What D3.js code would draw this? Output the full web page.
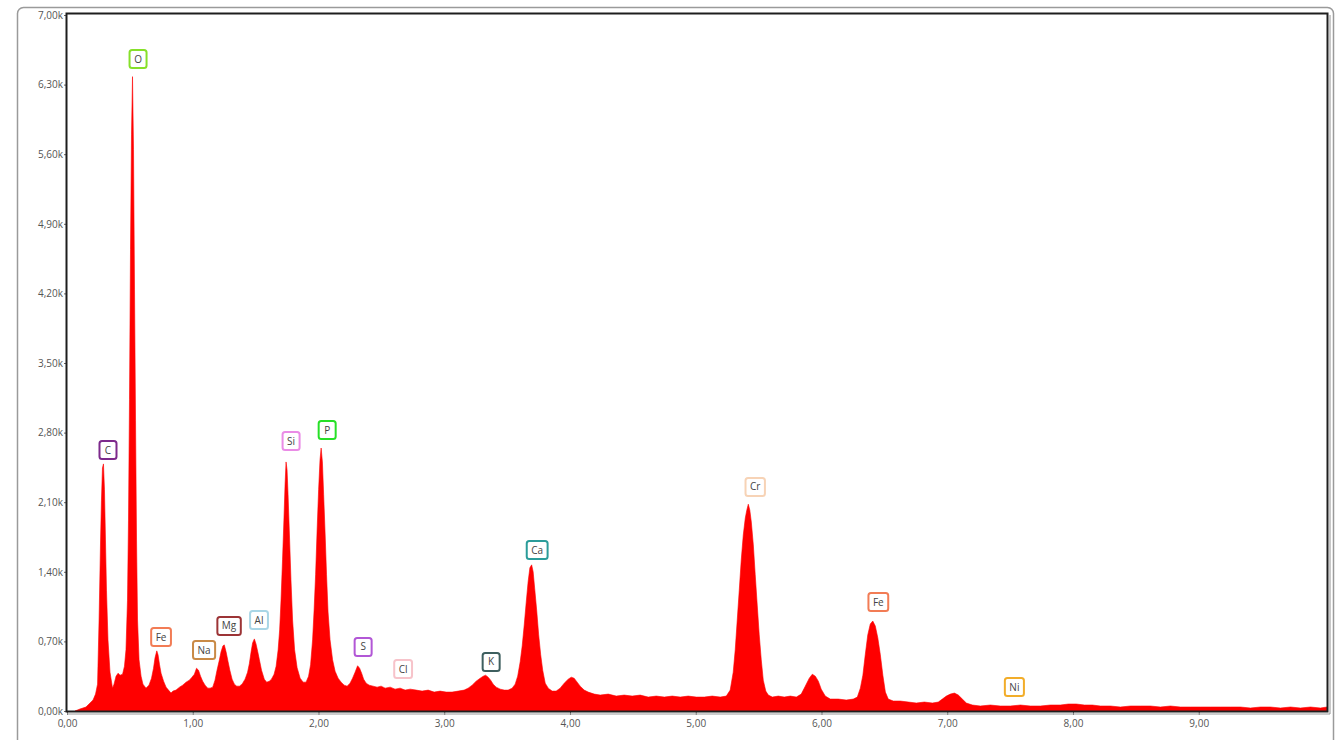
<!DOCTYPE html>
<html>
<head>
<meta charset="utf-8">
<script src="https://cdn.jsdelivr.net/npm/d3@7"></script>
<style>
body { margin: 0; background: #fff; }
.axis text { font-family: "Open Sans", "Noto Sans", sans-serif; font-size: 10px; fill: #555; }
.lbl text { font-family: "Open Sans", "Noto Sans", sans-serif; font-size: 10px; fill: #444; }
</style>
</head>
<body>
<div class="d3-here"></div>
<script>
// spectrum (keV / counts)
var energy = [
	0.064, 0.103, 0.151, 0.183, 0.207, 0.227, 0.243, 0.255, 0.267, 0.274, 0.282, 0.290, 0.298, 0.306, 0.314, 0.326, 0.342, 0.362,
	0.374, 0.390, 0.406, 0.422, 0.442, 0.457, 0.469, 0.481, 0.489, 0.497, 0.505, 0.513, 0.521, 0.529, 0.537, 0.545, 0.553, 0.561,
	0.573, 0.589, 0.604, 0.628, 0.652, 0.672, 0.688, 0.700, 0.714, 0.724, 0.736, 0.748, 0.768, 0.788, 0.807, 0.827, 0.843, 0.867,
	0.895, 0.920, 0.947, 0.973, 0.994, 1.013, 1.030, 1.046, 1.062, 1.079, 1.098, 1.119, 1.138, 1.159, 1.177, 1.193, 1.212, 1.225,
	1.240, 1.251, 1.265, 1.281, 1.295, 1.313, 1.331, 1.350, 1.371, 1.392, 1.416, 1.436, 1.450, 1.464, 1.476, 1.490, 1.503, 1.517,
	1.530, 1.547, 1.569, 1.588, 1.609, 1.626, 1.647, 1.663, 1.679, 1.691, 1.702, 1.714, 1.725, 1.734, 1.742, 1.750, 1.758, 1.769,
	1.781, 1.794, 1.810, 1.830, 1.854, 1.878, 1.901, 1.921, 1.937, 1.953, 1.965, 1.977, 1.989, 2.001, 2.012, 2.021, 2.031, 2.041,
	2.053, 2.064, 2.076, 2.092, 2.112, 2.132, 2.156, 2.180, 2.204, 2.228, 2.251, 2.271, 2.291, 2.311, 2.327, 2.343, 2.359, 2.379,
	2.403, 2.434, 2.466, 2.498, 2.530, 2.570, 2.609, 2.649, 2.689, 2.729, 2.777, 2.824, 2.872, 2.920, 2.967, 3.015, 3.063, 3.111,
	3.158, 3.190, 3.222, 3.254, 3.286, 3.310, 3.329, 3.349, 3.369, 3.389, 3.413, 3.445, 3.477, 3.508, 3.540, 3.564, 3.584, 3.604,
	3.620, 3.636, 3.652, 3.667, 3.681, 3.695, 3.707, 3.719, 3.735, 3.751, 3.767, 3.783, 3.803, 3.827, 3.858, 3.890, 3.922, 3.954,
	3.986, 4.010, 4.033, 4.057, 4.081, 4.113, 4.145, 4.193, 4.240, 4.304, 4.368, 4.431, 4.495, 4.558, 4.622, 4.686, 4.750, 4.813,
	4.877, 4.940, 5.004, 5.068, 5.131, 5.195, 5.243, 5.274, 5.298, 5.314, 5.330, 5.346, 5.362, 5.378, 5.394, 5.406, 5.418, 5.430,
	5.442, 5.458, 5.473, 5.489, 5.505, 5.521, 5.537, 5.557, 5.577, 5.609, 5.656, 5.704, 5.752, 5.800, 5.839, 5.871, 5.903, 5.927,
	5.951, 5.975, 5.998, 6.030, 6.070, 6.134, 6.197, 6.253, 6.285, 6.309, 6.329, 6.348, 6.368, 6.388, 6.408, 6.428, 6.448, 6.468,
	6.488, 6.508, 6.531, 6.571, 6.627, 6.691, 6.754, 6.818, 6.882, 6.929, 6.961, 6.993, 7.025, 7.057, 7.088, 7.120, 7.152, 7.200,
	7.263, 7.343, 7.422, 7.502, 7.582, 7.661, 7.741, 7.820, 7.900, 7.963, 8.027, 8.091, 8.154, 8.218, 8.298, 8.377, 8.457, 8.536,
	8.616, 8.695, 8.775, 8.854, 8.934, 9.013, 9.093, 9.173, 9.252, 9.332, 9.411, 9.491, 9.570, 9.650, 9.730, 9.809, 9.889, 9.968,
	10.02
];
var counts = [
	0, 20, 40, 80, 110, 170, 270, 915, 1720, 2120, 2445, 2485, 2225, 1720, 1215, 715, 390, 230,
	270, 350, 380, 360, 370, 450, 615, 1115, 1920, 3130, 4640, 5795, 6380, 5645, 4235, 2925, 1720, 915,
	515, 350, 270, 230, 260, 330, 430, 535, 605, 565, 465, 380, 300, 240, 210, 180, 200, 210,
	240, 260, 290, 310, 340, 370, 430, 410, 350, 300, 260, 230, 230, 240, 310, 410, 515, 595,
	655, 665, 595, 495, 410, 320, 270, 250, 250, 270, 320, 390, 475, 595, 685, 725, 675, 595,
	515, 410, 320, 290, 300, 320, 370, 450, 615, 815, 1115, 1520, 1920, 2275, 2505, 2425, 2175, 1770,
	1320, 915, 615, 435, 330, 290, 290, 350, 465, 715, 1015, 1370, 1820, 2225, 2525, 2645, 2505, 2175,
	1770, 1370, 995, 715, 515, 400, 330, 290, 260, 250, 280, 330, 390, 455, 430, 380, 320, 280,
	260, 250, 240, 250, 230, 240, 220, 230, 210, 220, 210, 200, 210, 190, 200, 190, 190, 200,
	210, 230, 260, 300, 330, 350, 360, 340, 310, 270, 240, 220, 210, 210, 230, 270, 350, 495,
	655, 865, 1095, 1300, 1440, 1470, 1400, 1235, 1015, 765, 565, 410, 280, 230, 200, 200, 230, 280,
	320, 340, 330, 290, 250, 210, 190, 170, 160, 170, 150, 160, 150, 160, 140, 150, 140, 150,
	140, 150, 140, 140, 150, 140, 150, 210, 390, 615, 915, 1215, 1520, 1770, 1940, 2020, 2080, 2020,
	1900, 1670, 1370, 1065, 765, 515, 310, 200, 160, 140, 150, 140, 150, 140, 170, 250, 330, 370,
	350, 300, 220, 150, 120, 120, 110, 120, 140, 230, 360, 565, 765, 875, 905, 855, 735, 565,
	360, 190, 120, 100, 100, 90, 80, 90, 80, 90, 120, 150, 170, 180, 160, 120, 80, 60,
	50, 60, 50, 50, 60, 50, 50, 60, 60, 70, 70, 60, 60, 50, 50, 40, 50, 50,
	50, 40, 50, 40, 40, 40, 40, 40, 40, 40, 30, 40, 40, 30, 40, 30, 40, 30,
	40
];

// element markers
var lblNames  = ['C', 'O', 'Fe', 'Na', 'Mg', 'Al', 'Si', 'P', 'S', 'Cl', 'K', 'Ca', 'Cr', 'Fe', 'Ni'];
var lblKeV    = [0.326, 0.565, 0.748, 1.090, 1.289, 1.527, 1.782, 2.069, 2.355, 2.673, 3.373, 3.739, 5.473, 6.452, 7.534];
var lblCounts = [2625, 6557, 744, 613, 855, 915, 2715, 2826, 644, 422, 493, 1619, 2253, 1096, 241];
var lblColors = ['#7d2a8c', '#86e02a', '#f27c55', '#c98a46', '#9c3436', '#a9d6e6', '#ea8ce6', '#27e027',
	'#b257d6', '#f7c3ca', '#3e5f5f', '#2b9c9a', '#f7d3b6', '#f27c55', '#f2ad2a'];

var yTicks = [0, 700, 1400, 2100, 2800, 3500, 4200, 4900, 5600, 6300, 7000];
var xTicks = [0, 1, 2, 3, 4, 5, 6, 7, 8, 9];

var W = 1341, H = 740;
var pLeft = 67, pRight = 1327, pTop = 15, pBottom = 711;

var svg = d3.select('.d3-here').append('svg')
	.attr('width', W)
	.attr('height', H);

// outer frame
svg.append('rect')
	.attr('x', 17.5).attr('y', 7.5)
	.attr('width', 1316).attr('height', 770)
	.attr('rx', 6)
	.attr('fill', 'none')
	.attr('stroke', '#9a9a9a')
	.attr('stroke-width', 1.5);

var x = d3.scaleLinear().domain([0, 10.02]).range([pLeft, pRight]);
var y = d3.scaleLinear().domain([0, 7000]).range([pBottom, pTop]);

var pts = energy.map(function(e, i) { return { e: e, c: counts[i] }; });

var area = d3.area()
	.x(function(d) { return x(d.e); })
	.y0(y(0))
	.y1(function(d) { return y(d.c); });

svg.append('path')
	.datum(pts)
	.attr('d', area)
	.attr('fill', '#ff0000')
	.attr('stroke', '#ff0000')
	.attr('stroke-width', 0.6);

var comma = function(v) { return d3.format('.2f')(v).replace('.', ','); };

var yAxis = d3.axisLeft(y)
	.tickValues(yTicks)
	.tickSize(3)
	.tickPadding(1)
	.tickFormat(function(d) { return comma(d / 1000) + 'k'; });

var xAxis = d3.axisBottom(x)
	.tickValues(xTicks)
	.tickSize(3)
	.tickPadding(5)
	.tickFormat(comma);

svg.append('g')
	.attr('class', 'axis')
	.attr('transform', 'translate(' + pLeft + ',0)')
	.call(yAxis)
	.call(function(g) { g.select('.domain').remove(); })
	.selectAll('line').attr('stroke', '#666');

svg.append('g')
	.attr('class', 'axis')
	.attr('transform', 'translate(0,' + (pBottom + 1) + ')')
	.call(xAxis)
	.call(function(g) { g.select('.domain').remove(); })
	.selectAll('line').attr('stroke', '#666');

// plot frame
svg.append('rect')
	.attr('x', pLeft - 0.5).attr('y', pTop - 1.5)
	.attr('width', pRight - pLeft + 1).attr('height', pBottom - pTop + 2)
	.attr('fill', 'none')
	.attr('stroke', '#1e1e1e')
	.attr('stroke-width', 2);
svg.append('line')
	.attr('x1', pRight + 3).attr('x2', pRight + 3)
	.attr('y1', pTop).attr('y2', pBottom + 3)
	.attr('stroke', '#c8c8c8').attr('stroke-width', 2);
svg.append('line')
	.attr('x1', pLeft).attr('x2', pRight + 3)
	.attr('y1', pBottom + 3).attr('y2', pBottom + 3)
	.attr('stroke', '#999').attr('stroke-width', 1);

// element labels
var lbl = svg.append('g').attr('class', 'lbl').selectAll('g')
	.data(lblNames)
	.enter()
	.append('g')
	.attr('transform', function(d, i) { return 'translate(' + x(lblKeV[i]) + ',' + y(lblCounts[i]) + ')'; });

lbl.append('rect');
lbl.append('text')
	.attr('text-anchor', 'middle')
	.attr('dy', '0.35em')
	.text(function(d) { return d; });

lbl.each(function(d, i) {
	var g = d3.select(this);
	var w = Math.max(g.select('text').node().getComputedTextLength() + 9, 17);
	g.select('rect')
		.attr('x', -w / 2).attr('y', -9)
		.attr('width', w).attr('height', 18)
		.attr('rx', 2.5)
		.attr('fill', '#fff')
		.attr('stroke', lblColors[i])
		.attr('stroke-width', 2);
});
</script>
</body>
</html>
